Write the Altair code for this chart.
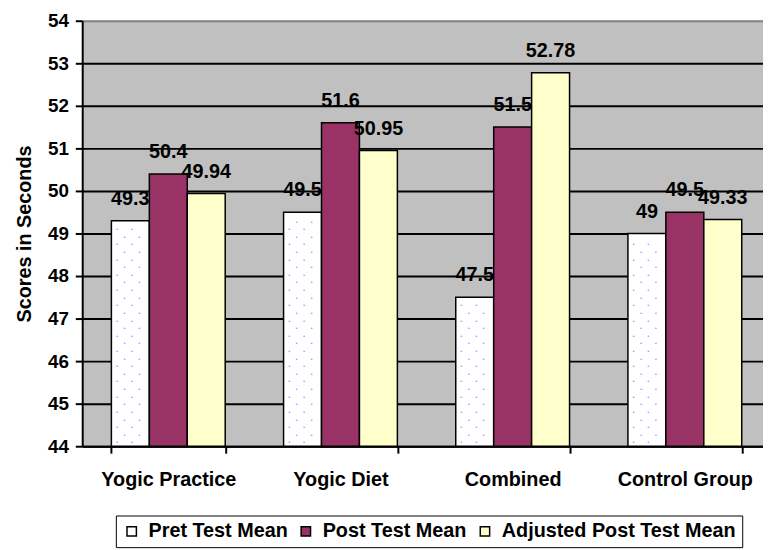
import altair as alt
import pandas as pd

categories = ["Yogic Practice", "Yogic Diet", "Combined", "Control Group"]
series = ["Pret Test Mean", "Post Test Mean", "Adjusted Post Test Mean"]
pre_test = [49.3, 49.5, 47.5, 49.0]
post_test = [50.4, 51.6, 51.5, 49.5]
adjusted = [49.94, 50.95, 52.78, 49.33]
colors = ["#FFFFFF", "#993366", "#FFFFCC"]
y_ticks = [44, 45, 46, 47, 48, 49, 50, 51, 52, 53, 54]

rows = []
for i, c in enumerate(categories):
    for s, vals in zip(series, [pre_test, post_test, adjusted]):
        rows.append({"category": c, "series": s, "value": vals[i], "label": f"{vals[i]:g}"})
df = pd.DataFrame(rows)

FONT = "Liberation Sans"

x = alt.X(
    "category:N",
    sort=categories,
    scale=alt.Scale(range=[0, 696], paddingInner=0.339, paddingOuter=0.1695),
    axis=alt.Axis(
        title=None, labelAngle=0, labelFont=FONT, labelFontSize=20, labelFontWeight="bold",
        labelColor="black", labelPadding=17, tickBand="extent", tickSize=7, tickColor="black",
        tickWidth=2, domainColor="black", domainWidth=2, labelLimit=300,
    ),
)
xoff = alt.XOffset("series:N", sort=series, scale=alt.Scale(paddingInner=0, paddingOuter=0))
y = alt.Y(
    "value:Q",
    scale=alt.Scale(domain=[44, 54], nice=False, zero=False),
    axis=alt.Axis(
        title="Scores in Seconds", values=y_ticks, format="d",
        labelFont=FONT, labelFontSize=19, labelFontWeight="bold", labelColor="black",
        titleFont=FONT, titleFontSize=20, titleFontWeight="bold", titleColor="black",
        tickSize=7, tickWidth=2, tickColor="black", domainColor="black", domainWidth=2,
        grid=True, gridWidth=2,
        gridColor={"condition": {"test": "datum.value === 54", "value": "#808080"}, "value": "black"},
        labelPadding=7, titlePadding=13,
    ),
)

bars = alt.Chart(df).mark_bar(stroke="black", strokeWidth=1.5).encode(
    x=x,
    xOffset=xoff,
    y=y,
    y2=alt.datum(44),
    color=alt.Color(
        "series:N",
        sort=series,
        scale=alt.Scale(domain=series, range=colors),
        legend=alt.Legend(
            title=None, orient="none", legendX=34, legendY=500, direction="horizontal",
            symbolType="square", symbolSize=90, symbolStrokeColor="black", symbolStrokeWidth=1.5,
            symbolOpacity=1, labelFont=FONT, labelFontSize=20, labelFontWeight="bold",
            labelColor="black", labelLimit=400, labelOffset=7, columnPadding=8,
            padding=6, strokeColor="black",
        ),
    ),
)

dots_base = (
    alt.Chart(df)
    .transform_filter(alt.datum.series == series[0])
    .transform_calculate(r="sequence(0, floor((datum.value - 44) / 0.179))")
    .transform_flatten(["r"])
    .transform_calculate(yy="44 + (datum.r + 0.5) * 0.179", parity="datum.r % 2")
)
dot_layers = []
for par, offsets in [(0, [-13.5, 1.5]), (1, [-6, 9])]:
    for d in offsets:
        dot_layers.append(
            dots_base.transform_filter(alt.datum.parity == par)
            .mark_text(text="•", fontSize=6, color="#9999FF", dx=d, baseline="middle")
            .encode(x=x, xOffset=xoff, y=alt.Y("yy:Q"))
        )

labels = alt.Chart(df).mark_text(
    font=FONT, fontSize=20, fontWeight="bold", color="black", baseline="alphabetic", dy=-16, align="center"
).encode(x=x, xOffset=xoff, y=y, text="label:N")

chart = (
    alt.layer(bars, *dot_layers, labels)
    .properties(
        width=688, height=430,
        autosize=alt.AutoSizeParams(type="none"),
        padding={"left": 75, "top": 10, "right": 0, "bottom": 102},
    )
    .configure_view(fill="#C0C0C0", stroke="transparent")
)

chart.save("out.html", embed_options={"renderer": "svg", "actions": False})
